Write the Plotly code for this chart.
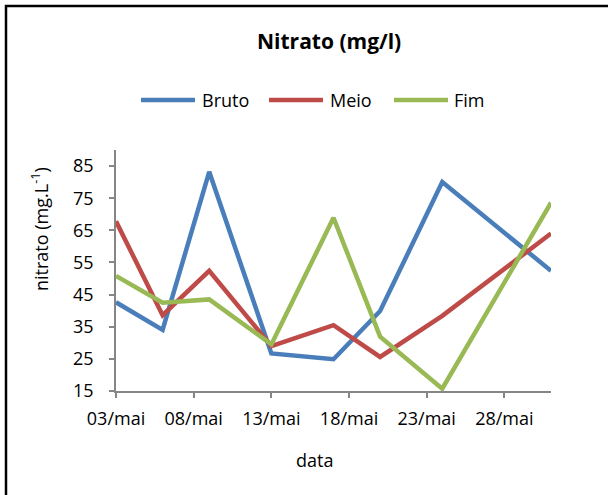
import plotly.graph_objects as go

# ---- data ----
dates = ["2013-05-03", "2013-05-06", "2013-05-09", "2013-05-13",
         "2013-05-17", "2013-05-20", "2013-05-24", "2013-05-31"]
bruto = [42.6, 34.0, 83.2, 26.7, 24.9, 39.9, 80.0, 52.4]
meio = [67.8, 38.6, 52.4, 29.0, 35.5, 25.6, 38.4, 64.0]
fim = [50.8, 42.5, 43.5, 29.5, 68.9, 31.9, 15.7, 73.6]

series_names = ["Bruto", "Meio", "Fim"]
series_values = [bruto, meio, fim]
series_colors = ["#4A7EBB", "#BE4B48", "#98B954"]

x_tick_vals = ["2013-05-03", "2013-05-08", "2013-05-13", "2013-05-18",
               "2013-05-23", "2013-05-28"]
x_tick_text = ["03/mai", "08/mai", "13/mai", "18/mai", "23/mai", "28/mai"]
y_tick_vals = [15, 25, 35, 45, 55, 65, 75, 85]

W, H = 608, 495
PL, PR, PT, PB = 116, 551, 150, 391  # plot area in pixels
FONT = "Open Sans"


def px(x):
    return (x - PL) / (PR - PL)


def py(y):
    return (PB - y) / (PB - PT)


fig = go.Figure()
for name, vals, col in zip(series_names, series_values, series_colors):
    fig.add_trace(go.Scatter(x=dates, y=vals, mode="lines", name=name,
                             line=dict(color=col, width=4.5),
                             showlegend=False))

shapes = []
annotations = []

# outer chart border
shapes.append(dict(type="rect", xref="paper", yref="paper",
                   x0=px(6), x1=px(640), y0=py(530), y1=py(6),
                   line=dict(color="black", width=2.5), layer="below"))

# manual legend
legend_items = [(141, 195, 200), (269, 323, 328), (394, 448, 452)]
for (x0, x1, xt), name, col in zip(legend_items, series_names, series_colors):
    shapes.append(dict(type="line", xref="paper", yref="paper",
                       x0=px(x0), x1=px(x1), y0=py(100), y1=py(100),
                       line=dict(color=col, width=4.5)))
    annotations.append(dict(text=name, xref="paper", yref="paper",
                            x=px(xt), y=py(100), xanchor="left", yanchor="middle",
                            showarrow=False,
                            font=dict(family=FONT, size=18, color="#000")))

# title
annotations.append(dict(text="<b>Nitrato (mg/l)</b>", xref="paper", yref="paper",
                        x=px(329), y=py(41), xanchor="center", yanchor="middle",
                        showarrow=False,
                        font=dict(family=FONT, size=21, color="#000")))
# y axis title
annotations.append(dict(text="nitrato (mg.L<sup>-1</sup>)", xref="paper", yref="paper",
                        x=px(40), y=py(229), xanchor="center", yanchor="middle",
                        textangle=-90, showarrow=False,
                        font=dict(family=FONT, size=18, color="#000")))
# x axis title
annotations.append(dict(text="data", xref="paper", yref="paper",
                        x=px(314), y=py(460), xanchor="center", yanchor="middle",
                        showarrow=False,
                        font=dict(family=FONT, size=18, color="#000")))

fig.update_layout(
    width=W, height=H,
    margin=dict(l=PL, r=W - PR, t=PT, b=H - PB, pad=0),
    paper_bgcolor="white", plot_bgcolor="white",
    shapes=shapes, annotations=annotations,
    font=dict(family=FONT, size=18, color="#000"),
    xaxis=dict(type="date", range=["2013-05-03", "2013-05-31"],
               tickvals=x_tick_vals, ticktext=x_tick_text,
               showgrid=False, zeroline=False,
               showline=True, linecolor="#868686", linewidth=1.5,
               ticks="outside", ticklen=5, tickcolor="#868686", tickwidth=1.5,
               ticklabelstandoff=6,
               tickfont=dict(family=FONT, size=18, color="#000")),
    yaxis=dict(range=[15, 90], tickvals=y_tick_vals,
               showgrid=False, zeroline=False,
               showline=True, linecolor="#868686", linewidth=1.5,
               ticks="outside", ticklen=5, tickcolor="#868686", tickwidth=1.5,
               ticklabelstandoff=12,
               tickfont=dict(family=FONT, size=18, color="#000")),
)

fig.write_html("out.html")
